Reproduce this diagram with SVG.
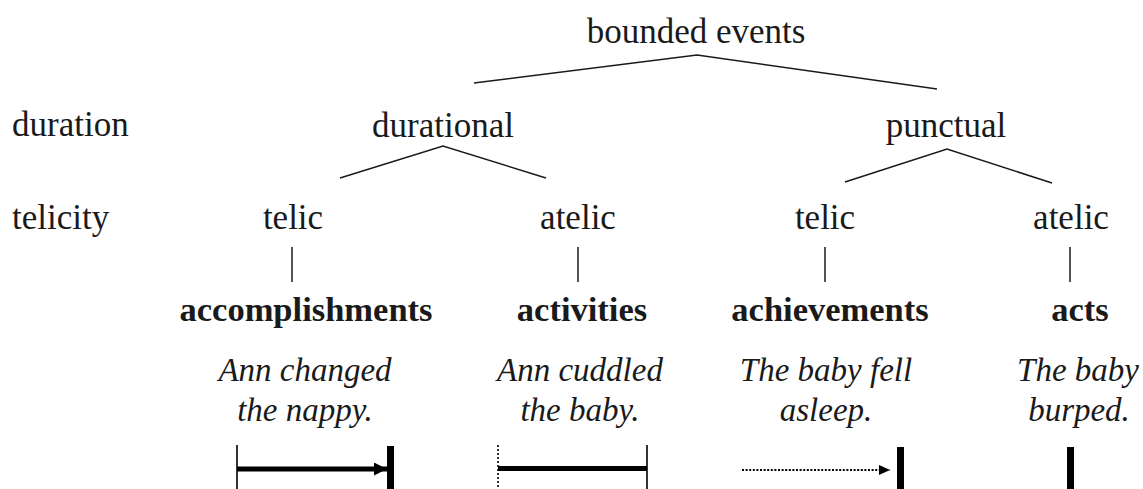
<svg xmlns="http://www.w3.org/2000/svg" width="1143" height="489" viewBox="0 0 1143 489">
<style>
text{font-family:"Liberation Serif","Times New Roman",serif;font-size:35px;fill:#1a1a1a}
.c{text-anchor:middle}
.b{font-weight:bold;font-size:34.5px}
.i{font-style:italic;font-size:33px}
.tl{stroke:#1a1a1a;stroke-width:1.5;fill:none}
.thin{stroke:#000;stroke-width:1.6;fill:none}
.bar{fill:#000}
.thick{stroke:#000;stroke-width:5;fill:none}
.dotv{stroke:#000;stroke-width:1.6;stroke-dasharray:2 2;fill:none}
.doth{stroke:#000;stroke-width:2;stroke-dasharray:2 1.6;fill:none}
</style>
<defs>
<marker id="ah" markerUnits="userSpaceOnUse" viewBox="0 0 13 13" refX="13" refY="6.5" markerWidth="13" markerHeight="13" orient="auto">
<path d="M0,0 L13,6.5 L0,13 Z" fill="#000"/>
</marker>
<marker id="ah2" markerUnits="userSpaceOnUse" viewBox="0 0 12 12" refX="12" refY="6" markerWidth="12" markerHeight="11" orient="auto">
<path d="M0,0.5 L12,6 L0,11.5 Z" fill="#000"/>
</marker>
</defs>
<g id="labels">
<text x="12" y="136">duration</text>
<text x="12" y="229">telicity</text>
</g>
<g id="root"><text class="c" x="696" y="43">bounded events</text></g>
<g id="durational"><text class="c" x="443" y="137">durational</text></g>
<g id="punctual"><text class="c" x="946" y="137">punctual</text></g>
<g id="telic1"><text class="c" x="293" y="229">telic</text></g>
<g id="atelic1"><text class="c" x="578" y="229">atelic</text></g>
<g id="telic2"><text class="c" x="825" y="229">telic</text></g>
<g id="atelic2"><text class="c" x="1071" y="229">atelic</text></g>
<g id="accomplishments">
<text class="c b" x="306" y="321">accomplishments</text>
<text class="c i" x="305" y="381">Ann changed</text>
<text class="c i" x="305" y="421">the nappy.</text>
<line class="thin" x1="237" y1="445" x2="237" y2="489"/>
<line class="thick" x1="237" y1="469" x2="387" y2="469" marker-end="url(#ah)"/>
<rect class="bar" x="387" y="446" width="7" height="43"/>
</g>
<g id="activities">
<text class="c b" x="582" y="321">activities</text>
<text class="c i" x="580" y="381">Ann cuddled</text>
<text class="c i" x="580" y="421">the baby.</text>
<line class="dotv" x1="498" y1="445" x2="498" y2="489"/>
<line class="thick" x1="498" y1="468.5" x2="647" y2="468.5"/>
<line class="thin" x1="647" y1="445" x2="647" y2="489"/>
</g>
<g id="achievements">
<text class="c b" x="830" y="321">achievements</text>
<text class="c i" x="826" y="381">The baby fell</text>
<text class="c i" x="826" y="421">asleep.</text>
<line class="doth" x1="742" y1="470" x2="890" y2="470" marker-end="url(#ah2)"/>
<rect class="bar" x="897" y="447" width="7" height="42"/>
</g>
<g id="acts">
<text class="c b" x="1080" y="321">acts</text>
<text class="c i" x="1078" y="381">The baby</text>
<text class="c i" x="1079" y="421">burped.</text>
<rect class="bar" x="1067" y="447" width="7" height="42"/>
</g>
<g id="connectors">
<polyline class="tl" points="474,83 697,55 937,89"/>
<polyline class="tl" points="340,178 443,146 546,178"/>
<polyline class="tl" points="845,182 947,149 1052,183"/>
<line class="tl" x1="292" y1="247" x2="292" y2="282"/>
<line class="tl" x1="578" y1="247" x2="578" y2="282"/>
<line class="tl" x1="825" y1="247" x2="825" y2="282"/>
<line class="tl" x1="1070" y1="247" x2="1070" y2="282"/>
</g>
</svg>
